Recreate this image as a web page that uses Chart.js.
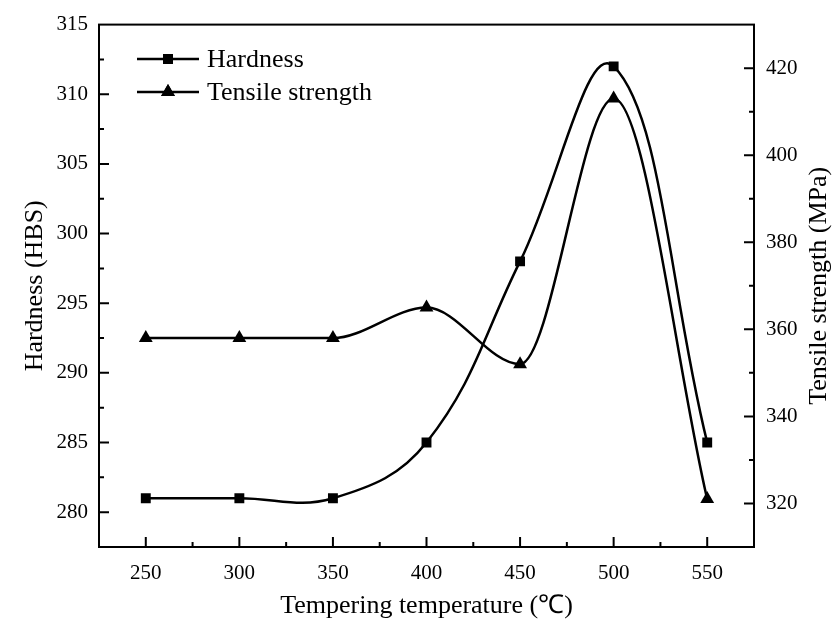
<!DOCTYPE html>
<html>
<head>
<meta charset="utf-8">
<script src="https://cdn.jsdelivr.net/npm/chart.js@4/dist/chart.umd.min.js"></script>
<style>
  html, body { margin: 0; padding: 0; background: #fff; }
  canvas { display: block; }
</style>
</head>
<body>
<canvas id="c" width="835" height="622"></canvas>
<script>
// ---------- data ----------
const temperatures = [250, 300, 350, 400, 450, 500, 550];
const hardness = [281, 281, 281, 285, 298, 312, 285];
const tensileStrength = [358, 358, 358, 365, 352, 413, 321];

const xTicks = [250, 300, 350, 400, 450, 500, 550];
const leftTicks = [280, 285, 290, 295, 300, 305, 310, 315];
const rightTicks = [320, 340, 360, 380, 400, 420];

const seriesNames = ['Hardness', 'Tensile strength'];
const xTitle = 'Tempering temperature (\u2103)';
const leftTitle = 'Hardness (HBS)';
const rightTitle = 'Tensile strength (MPa)';

// ---------- styles ----------
const FONT = '"Liberation Serif", "Times New Roman", serif';
const INK = '#000';

function toPoints(xs, ys) { return xs.map((x, i) => ({ x: x, y: ys[i] })); }
function mids(arr) { const m = []; for (let i = 0; i < arr.length - 1; i++) m.push((arr[i] + arr[i + 1]) / 2); return m; }

const axesPlugin = {
  id: 'axesPlugin',
  beforeDraw(chart) {
    const ctx = chart.ctx;
    ctx.save();
    ctx.fillStyle = '#fff';
    ctx.fillRect(0, 0, chart.width, chart.height);
    ctx.restore();
  },
  afterDraw(chart) {
    const ctx = chart.ctx;
    const a = chart.chartArea;
    const sx = chart.scales.x, sl = chart.scales.y, sr = chart.scales.y1;
    ctx.save();
    ctx.strokeStyle = INK;
    ctx.lineWidth = 2;
    ctx.lineCap = 'square';
    ctx.strokeRect(a.left, a.top, a.right - a.left, a.bottom - a.top);
    ctx.lineCap = 'butt';
    const major = 10, minor = 5;
    ctx.beginPath();
    xTicks.forEach(v => { const p = sx.getPixelForValue(v); ctx.moveTo(p, a.bottom); ctx.lineTo(p, a.bottom - major); });
    mids(xTicks).forEach(v => { const p = sx.getPixelForValue(v); ctx.moveTo(p, a.bottom); ctx.lineTo(p, a.bottom - minor); });
    leftTicks.forEach(v => { const p = sl.getPixelForValue(v); if (p > a.top + 1) { ctx.moveTo(a.left, p); ctx.lineTo(a.left + major, p); } });
    mids(leftTicks).forEach(v => { const p = sl.getPixelForValue(v); ctx.moveTo(a.left, p); ctx.lineTo(a.left + minor, p); });
    rightTicks.forEach(v => { const p = sr.getPixelForValue(v); ctx.moveTo(a.right, p); ctx.lineTo(a.right - major, p); });
    mids(rightTicks).forEach(v => { const p = sr.getPixelForValue(v); ctx.moveTo(a.right, p); ctx.lineTo(a.right - minor, p); });
    ctx.stroke();

    // axis titles
    ctx.fillStyle = INK;
    ctx.font = '26px ' + FONT;
    ctx.textAlign = 'center';
    ctx.textBaseline = 'alphabetic';
    ctx.fillText(xTitle, (a.left + a.right) / 2, 613);
    ctx.save();
    ctx.translate(42, (a.top + a.bottom) / 2);
    ctx.rotate(-Math.PI / 2);
    ctx.fillText(leftTitle, 0, 0);
    ctx.restore();
    ctx.save();
    ctx.translate(826, (a.top + a.bottom) / 2);
    ctx.rotate(-Math.PI / 2);
    ctx.fillText(rightTitle, 0, 0);
    ctx.restore();

    // legend
    const legY = [59, 92];
    const lx0 = 137, lx1 = 199, mx = 168, tx = 207;
    chart.data.datasets.forEach((ds, i) => {
      const y = legY[i];
      ctx.beginPath();
      ctx.lineWidth = 2.5;
      ctx.moveTo(lx0, y); ctx.lineTo(lx1, y);
      ctx.stroke();
      Chart.helpers.drawPoint(ctx, { pointStyle: ds.pointStyle, radius: ds.pointRadius, borderWidth: 0, rotation: 0 }, mx, y);
      ctx.fillStyle = INK;
      ctx.fill();
      ctx.font = '26px ' + FONT;
      ctx.textAlign = 'left';
      ctx.textBaseline = 'alphabetic';
      ctx.fillText(ds.label, tx, y + 8);
    });
    ctx.restore();
  }
};

const tickFont = { family: FONT, size: 21 };

new Chart(document.getElementById('c'), {
  type: 'line',
  data: {
    datasets: [
      {
        label: seriesNames[0],
        data: toPoints(temperatures, hardness),
        yAxisID: 'y',
        borderColor: INK, backgroundColor: INK,
        borderWidth: 2.5,
        pointStyle: 'rect', pointRadius: 7, pointHoverRadius: 7, pointBorderWidth: 0,
        tension: 0.4
      },
      {
        label: seriesNames[1],
        data: toPoints(temperatures, tensileStrength),
        yAxisID: 'y1',
        borderColor: INK, backgroundColor: INK,
        borderWidth: 2.5,
        pointStyle: 'triangle', pointRadius: 8, pointHoverRadius: 8, pointBorderWidth: 0,
        cubicInterpolationMode: 'monotone'
      }
    ]
  },
  options: {
    responsive: false,
    animation: false,
    devicePixelRatio: 1,
    layout: { padding: { top: 19, left: 0, right: 0, bottom: 0 } },
    plugins: { legend: { display: false }, tooltip: { enabled: false } },
    scales: {
      x: {
        type: 'linear', min: 225, max: 575,
        grid: { display: false, drawTicks: false },
        border: { display: false },
        ticks: { font: tickFont, color: INK, padding: 14, maxRotation: 0 },
        afterBuildTicks: s => { s.ticks = xTicks.map(v => ({ value: v })); },
        afterFit: s => { s.height = 75; }
      },
      y: {
        type: 'linear', position: 'left', min: 277.5, max: 315,
        grid: { display: false, drawTicks: false },
        border: { display: false },
        ticks: { font: tickFont, color: INK, padding: 11 },
        afterBuildTicks: s => { s.ticks = leftTicks.map(v => ({ value: v })); },
        afterFit: s => { s.width = 99; }
      },
      y1: {
        type: 'linear', position: 'right', min: 310, max: 430,
        grid: { display: false, drawTicks: false },
        border: { display: false },
        ticks: { font: tickFont, color: INK, padding: 12 },
        afterBuildTicks: s => { s.ticks = rightTicks.map(v => ({ value: v })); },
        afterFit: s => { s.width = 81; }
      }
    }
  },
  plugins: [axesPlugin]
});
</script>
</body>
</html>
